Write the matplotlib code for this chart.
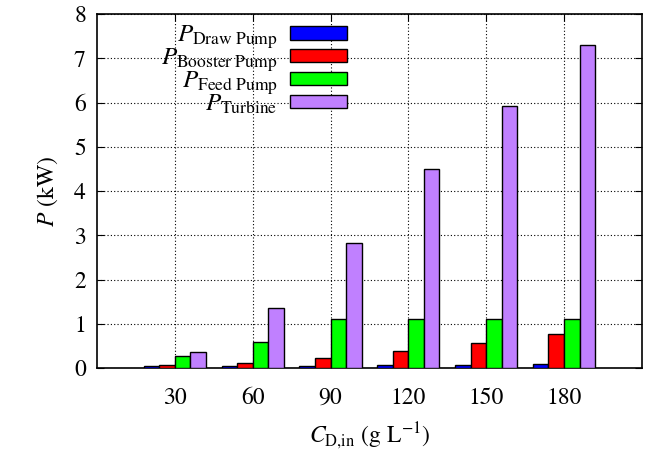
import numpy as np
import matplotlib
matplotlib.use("Agg")
import matplotlib.pyplot as plt

plt.rcParams["font.family"] = "STIXGeneral"
plt.rcParams["mathtext.fontset"] = "stix"

# data
concentrations = ["30", "60", "90", "120", "150", "180"]
draw_pump = [0.04, 0.04, 0.05, 0.07, 0.08, 0.09]
booster_pump = [0.06, 0.12, 0.22, 0.39, 0.57, 0.77]
feed_pump = [0.27, 0.59, 1.10, 1.10, 1.10, 1.10]
turbine = [0.37, 1.35, 2.83, 4.50, 5.93, 7.30]

series = [
    (draw_pump, r"$P_{\mathrm{Draw\ Pump}}$", "#0000ff"),
    (booster_pump, r"$P_{\mathrm{Booster\ Pump}}$", "#ff0000"),
    (feed_pump, r"$P_{\mathrm{Feed\ Pump}}$", "#00ff00"),
    (turbine, r"$P_{\mathrm{Turbine}}$", "#c080ff"),
]

fig = plt.figure(figsize=(6.51, 4.55), dpi=100)
ax = fig.add_axes([0.149, 0.191, 0.837, 0.778])

x = np.arange(len(concentrations))
width = 0.2
for i, (vals, label, color) in enumerate(series):
    ax.bar(x + (i - 1.5) * width, vals, width, color=color, edgecolor="black",
           linewidth=1.0, label=label, zorder=3)

ax.set_xlim(-1, 6)
ax.set_ylim(0, 8)
ax.set_xticks(x)
ax.set_xticklabels(concentrations)
ax.set_yticks(range(0, 9))
ax.tick_params(direction="in", top=True, right=True, labelsize=17, length=5, pad=8)
ax.tick_params(axis="x", pad=14)
ax.grid(True, color="black", linestyle=(0, (1, 2)), linewidth=0.8, zorder=0)
for s in ax.spines.values():
    s.set_linewidth(1.2)

ax.set_ylabel(r"$P$ (kW)", fontsize=17, labelpad=10)
ax.set_xlabel(r"$C_{\mathrm{D{,}in}}$ (g L$^{-1}$)", fontsize=17, labelpad=8)

ax.legend(loc="upper right", bbox_to_anchor=(0.487, 1.015), frameon=False,
          markerfirst=False, fontsize=18, handlelength=2.3, handleheight=0.45,
          labelspacing=-0.18, borderaxespad=0.2, handletextpad=0.5)

fig.savefig("out.png", dpi=100)
